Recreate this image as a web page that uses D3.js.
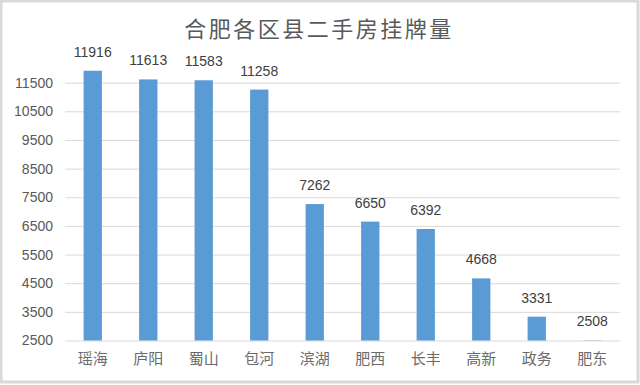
<!DOCTYPE html>
<html>
<head>
<meta charset="utf-8">
<script src="https://cdn.jsdelivr.net/npm/d3@7"></script>
<style>
  body { margin: 0; background: #fff; }
  svg { display: block; }
</style>
</head>
<body>
<script>
var width = 640,
    height = 385;

var margin = {top: 54, right: 20, bottom: 44, left: 65};

var districts = ["瑶海", "庐阳", "蜀山", "包河", "滨湖", "肥西", "长丰", "高新", "政务", "肥东"];
var listings = [11916, 11613, 11583, 11258, 7262, 6650, 6392, 4668, 3331, 2508];
var yTicks = [2500, 3500, 4500, 5500, 6500, 7500, 8500, 9500, 10500, 11500];

var svg = d3.select("body").append("svg")
    .attr("width", width)
    .attr("height", height);

// grey frame round the picture
svg.append("rect")
    .attr("x", 1).attr("y", 1)
    .attr("width", width - 3).attr("height", height - 4)
    .attr("fill", "#fff")
    .attr("stroke", "#d9d9d9")
    .attr("stroke-width", 3);

svg.append("text")
    .attr("x", 319)
    .attr("y", 37)
    .attr("text-anchor", "middle")
    .attr("font-family", "'Noto Sans CJK SC', sans-serif")
    .attr("font-size", 22)
    .attr("letter-spacing", 2.5)
    .attr("fill", "#595959")
    .text("合肥各区县二手房挂牌量");

var xScale = d3.scaleBand()
    .domain(districts)
    .range([margin.left, width - margin.right])
    .paddingInner(0.67)
    .paddingOuter(0.335);

var yScale = d3.scaleLinear()
    .domain([2500, 12500])
    .range([height - margin.bottom - 0.5, margin.top]);

// gridlines + tick labels
var axisY = d3.axisLeft(yScale)
    .tickValues(yTicks)
    .tickSize(-(width - margin.right - margin.left))
    .tickPadding(12)
    .tickFormat(d3.format("d"));

var gy = svg.append("g")
    .attr("transform", "translate(" + margin.left + ",0)")
    .call(axisY);
gy.select(".domain").remove();
gy.selectAll(".tick line")
    .attr("stroke", "#d9d9d9")
    .attr("stroke-width", 1);
gy.selectAll(".tick text")
    .attr("font-family", "'Liberation Sans', sans-serif")
    .attr("font-size", 14)
    .attr("fill", "#595959");

svg.selectAll(".bar")
    .data(listings)
    .enter().append("rect")
    .attr("class", "bar")
    .attr("x", function (d, i) { return xScale(districts[i]); })
    .attr("width", xScale.bandwidth())
    .attr("y", function (d) { return yScale(d); })
    .attr("height", function (d) { return yScale(2500) - yScale(d); })
    .attr("fill", "#5b9bd5");

svg.selectAll(".val")
    .data(listings)
    .enter().append("text")
    .attr("class", "val")
    .attr("x", function (d, i) { return xScale(districts[i]) + xScale.bandwidth() / 2; })
    .attr("y", function (d) { return yScale(d) - 14; })
    .attr("text-anchor", "middle")
    .attr("font-family", "'Liberation Sans', sans-serif")
    .attr("font-size", 14)
    .attr("fill", "#404040")
    .text(function (d) { return d; });

// category labels
var axisX = d3.axisBottom(xScale).tickSize(0).tickPadding(12);
var gx = svg.append("g")
    .attr("transform", "translate(0," + (height - margin.bottom) + ")")
    .call(axisX);
gx.select(".domain").remove();
gx.selectAll(".tick text")
    .attr("font-family", "'Noto Sans CJK SC', sans-serif")
    .attr("font-size", 15)
    .attr("fill", "#6b6b6b");
</script>
</body>
</html>
